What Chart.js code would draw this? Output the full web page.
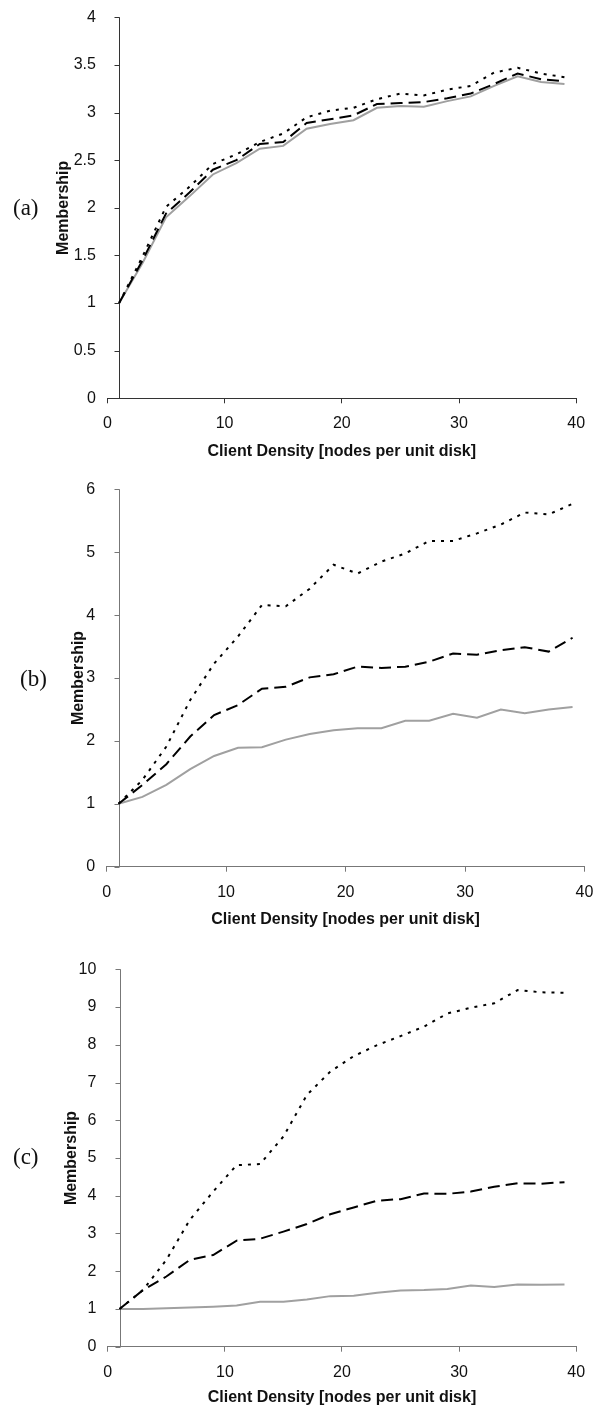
<!DOCTYPE html>
<html>
<head>
<meta charset="utf-8">
<script src="https://cdn.jsdelivr.net/npm/chart.js@4"></script>
<style>
  html, body { margin: 0; padding: 0; background: #fff; }
  body { width: 597px; height: 1412px; position: relative; overflow: hidden; }
  .panel { position: absolute; left: 0; }
  .tag { position: absolute; font-family: "Liberation Serif", serif; font-size: 23px; color: #111; }
</style>
</head>
<body>
<div class="panel" style="top:0"><canvas id="chartA" width="597" height="470"></canvas></div>
<div class="panel" style="top:470px"><canvas id="chartB" width="597" height="460"></canvas></div>
<div class="panel" style="top:930px"><canvas id="chartC" width="597" height="482"></canvas></div>
<div class="tag" style="left:13px;top:195px">(a)</div>
<div class="tag" style="left:20px;top:666px">(b)</div>
<div class="tag" style="left:13px;top:1144px">(c)</div>
<script>
// ===============================
// DADOS
// ===============================
const xValues = [1, 3, 5, 7, 9, 11, 13, 15, 17, 19, 21, 23, 25, 27, 29, 31, 33, 35, 37, 39];
const xTicks = [0, 10, 20, 30, 40];

// (a)
const solidA = [1.0, 1.42, 1.90, 2.12, 2.35, 2.47, 2.62, 2.65, 2.83, 2.88, 2.92, 3.05, 3.07, 3.06, 3.12, 3.17, 3.28, 3.38, 3.32, 3.30];
const dashA  = [1.0, 1.45, 1.94, 2.16, 2.40, 2.50, 2.67, 2.69, 2.89, 2.93, 2.97, 3.09, 3.10, 3.11, 3.15, 3.20, 3.30, 3.41, 3.35, 3.33];
const dotA   = [1.0, 1.49, 2.01, 2.22, 2.46, 2.56, 2.69, 2.78, 2.95, 3.02, 3.05, 3.14, 3.20, 3.18, 3.24, 3.28, 3.42, 3.47, 3.41, 3.37];

// (b)
const solidB = [1.0, 1.11, 1.30, 1.55, 1.76, 1.89, 1.90, 2.02, 2.11, 2.17, 2.20, 2.20, 2.32, 2.32, 2.43, 2.37, 2.50, 2.44, 2.50, 2.54];
const dashB  = [1.0, 1.30, 1.63, 2.07, 2.41, 2.57, 2.83, 2.86, 3.01, 3.06, 3.18, 3.16, 3.18, 3.26, 3.39, 3.37, 3.44, 3.49, 3.42, 3.64];
const dotB   = [1.0, 1.38, 1.91, 2.65, 3.23, 3.66, 4.16, 4.14, 4.42, 4.80, 4.66, 4.85, 4.98, 5.18, 5.18, 5.30, 5.44, 5.63, 5.60, 5.77];

// (c)
const solidC = [1.0, 1.0, 1.02, 1.04, 1.06, 1.09, 1.19, 1.19, 1.25, 1.34, 1.35, 1.43, 1.49, 1.50, 1.53, 1.62, 1.58, 1.65, 1.64, 1.65];
const dashC  = [1.0, 1.50, 1.86, 2.30, 2.43, 2.81, 2.86, 3.05, 3.25, 3.51, 3.69, 3.87, 3.91, 4.06, 4.05, 4.11, 4.24, 4.33, 4.32, 4.36];
const dotC   = [1.0, 1.50, 2.30, 3.36, 4.11, 4.81, 4.84, 5.57, 6.67, 7.29, 7.70, 7.99, 8.23, 8.48, 8.83, 8.98, 9.10, 9.45, 9.39, 9.38];

Chart.defaults.font.family = "'Liberation Sans', Arial, sans-serif";
Chart.defaults.color = "#111";

// eixo Y cruza em x = 1 (estilo Excel)
const crossAxis = {
    id: "crossAxis",
    beforeDatasetsDraw(chart, args, opts) {
        const { ctx, scales: { x, y } } = chart;
        const px = Math.round(x.getPixelForValue(1)) + 0.5;
        ctx.save();
        ctx.strokeStyle = opts.color;
        ctx.lineWidth = 1;
        ctx.beginPath();
        ctx.moveTo(px, y.top);
        ctx.lineTo(px, y.bottom);
        y.ticks.forEach(t => {
            const py = Math.round(y.getPixelForValue(t.value)) + 0.5;
            ctx.moveTo(px - 5, py);
            ctx.lineTo(px, py);
        });
        ctx.stroke();
        ctx.restore();
    }
};

const toPoints = ys => xValues.map((x, i) => ({ x, y: ys[i] }));

function semPadding(s) {
    s.paddingTop = 0; s.paddingBottom = 0; s.paddingLeft = 0; s.paddingRight = 0;
}

function desenhar(id, series, cfg) {
    const [dot, dash, solid] = series;
    new Chart(document.getElementById(id), {
        type: "line",
        data: {
            datasets: [
                { data: toPoints(dot), borderColor: "#000", borderWidth: 2, borderDash: [3, 6], pointRadius: 0 },
                { data: toPoints(dash), borderColor: "#000", borderWidth: 2, borderDash: [12, 6], pointRadius: 0 },
                { data: toPoints(solid), borderColor: "#a0a0a0", borderWidth: 2, pointRadius: 0 }
            ]
        },
        options: {
            responsive: false,
            animation: false,
            layout: { padding: cfg.pad },
            plugins: { legend: { display: false }, tooltip: { enabled: false }, crossAxis: { color: cfg.axis } },
            scales: {
                x: {
                    type: "linear",
                    min: 0,
                    max: 40,
                    afterBuildTicks: s => { s.ticks = xTicks.map(v => ({ value: v })); },
                    ticks: { font: { size: 16 }, padding: 11, maxRotation: 0 },
                    grid: { drawOnChartArea: false, drawTicks: true, tickLength: 5, color: cfg.axis },
                    border: { display: true, color: cfg.axis, width: 1 },
                    title: { display: true, text: "Client Density [nodes per unit disk]", font: { size: 16, weight: "bold" }, padding: 0 },
                    afterFit: s => { semPadding(s); s.height = cfg.xh; }
                },
                y: {
                    min: 0,
                    max: cfg.ymax,
                    ticks: { stepSize: cfg.step, font: { size: 16 }, padding: 3.5, callback: v => String(v) },
                    grid: { display: false },
                    border: { display: false },
                    title: { display: true, text: "Membership", font: { size: 16, weight: "bold" }, padding: { top: cfg.tpad, bottom: 0 } },
                    afterFit: s => { semPadding(s); s.width = cfg.left; }
                }
            }
        },
        plugins: [crossAxis]
    });
}

desenhar("chartA", [dotA, dashA, solidA], {
    ymax: 4, step: 0.5, left: 107.4, xh: 63, tpad: 54.4, axis: "#333",
    pad: { top: 17.3, right: 20.8, bottom: 8.7, left: 0 }
});
desenhar("chartB", [dotB, dashB, solidB], {
    ymax: 6, step: 1, left: 106.6, xh: 62.9, tpad: 69.4, axis: "#777",
    pad: { top: 19.3, right: 12.5, bottom: 0.4, left: 0 }
});
desenhar("chartC", [dotC, dashC, solidC], {
    ymax: 10, step: 1, left: 107.8, xh: 60.9, tpad: 62.4, axis: "#777",
    pad: { top: 39.3, right: 20.8, bottom: 4.4, left: 0 }
});
</script>
</body>
</html>
